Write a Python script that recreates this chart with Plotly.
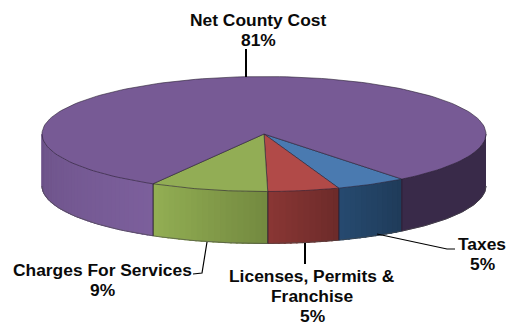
import numpy as np
import plotly.graph_objects as go

categories = ["Taxes", "Licenses, Permits &<br>Franchise", "Charges For Services", "Net County Cost"]
values = [5.2, 5.2, 8.6, 81.0]
top_colors = ["#4a7ab0", "#b14a48", "#92ad55", "#775a95"]
wall_left = ["#264a70", "#8a3634", "#93af54", "#6c5288"]
wall_right = ["#1f3b59", "#6c2b2a", "#73893f", "#7c5f9c"]
wall_back_right = "#392a49"

W, H = 509, 326
CX, CY, A, B, DEPTH = 264, 134, 222, 57.5, 52
START = 141.6
EDGE = "rgba(40,30,50,0.75)"
LINE_GAP = 20


def px(theta):
    t = np.radians(theta)
    return CX + A * np.sin(t), CY - B * np.cos(t)


def lerp(c1, c2, f):
    a = [int(c1[i:i + 2], 16) for i in (1, 3, 5)]
    b = [int(c2[i:i + 2], 16) for i in (1, 3, 5)]
    return "rgb(%d,%d,%d)" % tuple(round(p + (q - p) * f) for p, q in zip(a, b))


fig = go.Figure()


def poly(xs, ys, fill, line=None, width=1):
    fig.add_trace(go.Scatter(x=list(xs), y=list(ys), mode="lines", fill="toself", fillcolor=fill,
                             line=dict(color=line or fill, width=width), hoverinfo="skip", showlegend=False))


def stroke(xs, ys, color=EDGE, width=1):
    fig.add_trace(go.Scatter(x=list(xs), y=list(ys), mode="lines", line=dict(color=color, width=width),
                             hoverinfo="skip", showlegend=False))


angles = START + np.concatenate([[0], np.cumsum(values)]) * 360 / sum(values)

# side walls (only the front half of the rim is visible)
for i in range(len(values)):
    a0, a1 = angles[i], angles[i + 1]
    parts = []
    for lo, hi in ((90, 270), (450, 630)):
        s, e = max(a0, lo), min(a1, hi)
        if e > s:
            parts.append((s, e))
    for s, e in parts:
        if s >= 450:
            x, y = px(np.linspace(s, e, 60))
            poly(np.r_[x, x[::-1]], np.r_[y, y[::-1] + DEPTH], wall_back_right, width=1)
        else:
            n = max(2, int((e - s) / 1.5))
            edges = np.linspace(s, e, n + 1)
            for j in range(n):
                th = np.linspace(edges[j], min(edges[j + 1] + 0.5, e), 4)
                x, y = px(th)
                mid = 0.5 * (edges[j] + edges[j + 1])
                f = (mid - s) / (e - s)
                col = lerp(wall_left[i], wall_right[i], 1 - f)
                poly(np.r_[x, x[::-1]], np.r_[y, y[::-1] + DEPTH], col, width=1)
        x, y = px(np.linspace(s, e, 40))
        stroke(x, y + DEPTH, "rgba(70,70,70,0.6)", 1)
        for v in (s, e):
            if 90 < (v % 360) < 270:
                xv, yv = px(v)
                stroke([xv, xv], [yv, yv + DEPTH], EDGE, 1)

# top faces
for i in range(len(values)):
    th = np.linspace(angles[i], angles[i + 1], 160)
    x, y = px(th)
    poly(np.r_[CX, x, CX], np.r_[CY, y, CY], top_colors[i], EDGE, 0.8)

# leader lines (anchored on the rim, running out to the text)
leaders = [
    ([377, 447, 455], [234, 249, 249], 1.2),
    ([305, 305], [243, 264], 2),
    ([207, 202, 193], [242, 273, 274], 1.2),
    ([246, 246], [49, 77], 2),
]
for lx, ly, w in leaders:
    stroke(lx, ly, "#000000", w)

label_pos = [(482, 254), (312, 296), (102, 279.5), (258, 30)]
ann = []
for c, v, (lx, ly) in zip(categories, values, label_pos):
    lines = c.split("<br>") + ["%d%%" % round(v)]
    for k, line in enumerate(lines):
        ann.append(dict(x=lx, y=ly + (k - (len(lines) - 1) / 2) * LINE_GAP, xref="x", yref="y",
                        showarrow=False, align="center", text="<b>%s</b>" % line,
                        font=dict(family="Liberation Sans", size=17.4, color="#0a0a0a")))

fig.update_layout(width=W, height=H, margin=dict(l=0, r=0, t=0, b=0), paper_bgcolor="white",
                  plot_bgcolor="white", showlegend=False, annotations=ann,
                  xaxis=dict(range=[0, W], visible=False, fixedrange=True),
                  yaxis=dict(range=[H, 0], visible=False, fixedrange=True))
fig.write_html("out.html", config=dict(displayModeBar=False),
               post_script="document.body.style.margin='0';document.body.style.overflow='hidden';")
